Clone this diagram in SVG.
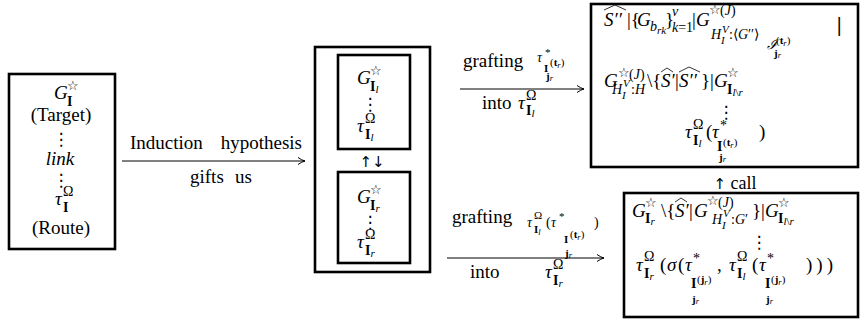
<svg xmlns="http://www.w3.org/2000/svg" width="862" height="320" viewBox="0 0 862 320">
<style>
.box{fill:none;stroke:#000;stroke-width:2.6}
.m{font-family:"Liberation Serif",serif;font-size:19px;fill:#000}
.i{font-style:italic}
.b{font-weight:bold}
.s{font-size:14px}
.ss{font-size:11px}
.sss{font-size:8.5px}
.star{font-family:"DejaVu Sans",sans-serif;font-size:13px;font-weight:bold;fill:#000}
.arw{font-family:"DejaVu Sans",sans-serif;font-size:15px;fill:#000}
.dots{font-family:"Noto Sans CJK SC","DejaVu Sans",sans-serif;font-size:17px;fill:#000;text-anchor:middle}
.cal{font-family:"DejaVu Serif",serif;font-style:italic;font-size:14px;fill:#000}
.bar{font-family:"DejaVu Serif",serif;font-size:19px;fill:#000}
.hat{fill:none;stroke:#000;stroke-width:0.8}
.arr{stroke:#000;stroke-width:1;fill:none;marker-end:url(#ah)}
</style>
<defs>
<marker id="ah" markerUnits="userSpaceOnUse" markerWidth="10" markerHeight="10" refX="8" refY="5" orient="auto" viewBox="0 0 10 10">
<path d="M1,1.5 Q5,4.3 8,5 Q5,5.7 1,8.5" fill="none" stroke="#000" stroke-width="1"/>
</marker>
</defs>
<rect width="862" height="320" fill="#fff"/>

<g id="connectors">
<line class="arr" x1="122" y1="161" x2="305" y2="161"/>
<line class="arr" x1="460" y1="89" x2="584" y2="89"/>
<line class="arr" x1="447" y1="258" x2="604" y2="258"/>
</g>

<g id="label-induction">
<text class="m" x="130" y="149">Induction</text>
<text class="m" x="302" y="149" text-anchor="end">hypothesis</text>
<text class="m" x="190" y="183">gifts</text>
<text class="m" x="235" y="183">us</text>
</g>

<g id="label-grafting-top">
<text class="m" x="463" y="67">grafting</text>
<text class="m i s" x="537" y="62">τ</text>
<text class="m ss" x="545" y="56">*</text>
<text class="m b ss" x="544" y="72">I</text>
<text class="m ss" x="550" y="66">(<tspan class="b">t</tspan><tspan class="i sss" dy="2">r</tspan><tspan dy="-2">)</tspan></text>
<text class="m b ss" x="546" y="80">j<tspan class="i sss" font-weight="normal" dy="1">r</tspan></text>
<text class="m" x="482" y="109">into</text>
<text class="m i" x="518" y="109">τ</text>
<text class="m s" x="526" y="100">Ω</text>
<text class="m b s" x="526" y="115">I<tspan class="i ss" font-weight="normal" dy="2">l</tspan></text>
</g>

<g id="label-grafting-bottom">
<text class="m" x="452" y="223">grafting</text>
<text class="m i s" x="527" y="227">τ</text>
<text class="m ss" x="534" y="219">Ω</text>
<text class="m b ss" x="534" y="233">I<tspan class="i sss" font-weight="normal" dy="2">l</tspan></text>
<text class="m s" x="546" y="227">(</text>
<text class="m i s" x="551" y="227">τ</text>
<text class="m ss" x="559" y="220">*</text>
<text class="m b ss" x="564" y="243">I</text>
<text class="m ss" x="570" y="238">(<tspan class="b">t</tspan><tspan class="i sss" dy="2">r</tspan><tspan dy="-2">)</tspan></text>
<text class="m b ss" x="565" y="257">j<tspan class="i sss" font-weight="normal" dy="1">r</tspan></text>
<text class="m s" x="594" y="227">)</text>
<text class="m" x="470" y="278">into</text>
<text class="m i" x="545" y="278">τ</text>
<text class="m s" x="553" y="269">Ω</text>
<text class="m b s" x="553" y="285">I<tspan class="i ss" font-weight="normal" dy="2">r</tspan></text>
</g>

<g id="node-target">
<rect class="box" x="9" y="74" width="106" height="175"/>
<text class="m i" x="54" y="99">G</text>
<text class="star" x="67" y="90">☆</text>
<text class="m b s" x="67" y="106">I</text>
<text class="m" x="61" y="121" text-anchor="middle">(Target)</text>
<text class="dots" x="61" y="145">⋮</text>
<text class="m i" x="60" y="165" text-anchor="middle">link</text>
<text class="dots" x="61" y="186">⋮</text>
<text class="m i" x="55" y="205">τ</text>
<text class="m s" x="63" y="196">Ω</text>
<text class="m b s" x="63" y="212">I</text>
<text class="m" x="61" y="234" text-anchor="middle">(Route)</text>
</g>

<g id="node-pair">
<rect class="box" x="315" y="47" width="115" height="225"/>
<text class="arw" x="372" y="167" text-anchor="middle">↑↓</text>
</g>

<g id="node-left">
<rect class="box" x="338" y="55" width="72" height="94"/>
<text class="m i" x="357" y="84">G</text>
<text class="star" x="370" y="75">☆</text>
<text class="m b s" x="370" y="91">I<tspan class="i ss" font-weight="normal" dy="2">l</tspan></text>
<text class="dots" x="370" y="110">⋮</text>
<text class="m i" x="357" y="132">τ</text>
<text class="m s" x="365" y="123">Ω</text>
<text class="m b s" x="365" y="139">I<tspan class="i ss" font-weight="normal" dy="2">l</tspan></text>
</g>

<g id="node-right">
<rect class="box" x="338" y="172" width="72" height="91"/>
<text class="m i" x="357" y="203">G</text>
<text class="star" x="370" y="194">☆</text>
<text class="m b s" x="370" y="210">I<tspan class="i ss" font-weight="normal" dy="2">r</tspan></text>
<text class="dots" x="370" y="228">⋮</text>
<text class="m i" x="357" y="248">τ</text>
<text class="m s" x="365" y="239">Ω</text>
<text class="m b s" x="365" y="255">I<tspan class="i ss" font-weight="normal" dy="2">r</tspan></text>
</g>

<g id="node-graft-left">
<rect class="box" x="591" y="4" width="267" height="163"/>
<text class="m i" x="604" y="26">S′′</text>
<path class="hat" d="M604,10 L615,5 L626,10"/>
<text class="m" x="627" y="26">|{</text>
<text class="m i" x="637" y="26">G</text>
<text class="m i s" x="650" y="31">b<tspan class="ss" dy="3">rk</tspan></text>
<text class="m" x="665" y="26">}</text>
<text class="m i s" x="672" y="16">v</text>
<text class="m s" x="672" y="32"><tspan class="i">k</tspan>=1</text>
<text class="m" x="692" y="26">|</text>
<text class="m i" x="696" y="26">G</text>
<text class="star" x="709" y="14">☆</text>
<text class="m s" x="720" y="15">(<tspan class="i">J</tspan>)</text>
<text class="m i s" x="711" y="39">H</text>
<text class="m i ss" x="722" y="33">V</text>
<text class="m i ss" x="721" y="44">I</text>
<text class="m s" x="729" y="39">:⟨<tspan class="i">G</tspan>′′⟩</text>
<text class="cal" x="767" y="49">ℐ</text>
<text class="m ss" x="776" y="44">(<tspan class="b">t</tspan><tspan class="i sss" dy="2">r</tspan><tspan dy="-2">)</tspan></text>
<text class="m b ss" x="774" y="57">j<tspan class="i sss" font-weight="normal" dy="1">r</tspan></text>
<text class="bar" x="836" y="31">|</text>
<text class="m i" x="604" y="87">G</text>
<text class="star" x="618" y="77">☆</text>
<text class="m s" x="629" y="79">(<tspan class="i">J</tspan>)</text>
<text class="m i s" x="612" y="94">H</text>
<text class="m i ss" x="623" y="87">V</text>
<text class="m i ss" x="622" y="99">I</text>
<text class="m s" x="631" y="94">:<tspan class="i">H</tspan></text>
<text class="m" x="647" y="87">\{</text>
<text class="m i" x="661" y="87">S′</text>
<path class="hat" d="M661,72 L667,68 L673,72"/>
<text class="m" x="675" y="87">|</text>
<text class="m i" x="679" y="87">S′′</text>
<path class="hat" d="M679,72 L689,67 L700,72"/>
<text class="m" x="701" y="87">}|</text>
<text class="m i" x="714" y="87">G</text>
<text class="star" x="727" y="77">☆</text>
<text class="m b s" x="727" y="94">I<tspan class="ss" font-weight="normal" dy="2"><tspan class="i">l</tspan>\<tspan class="i">r</tspan></tspan></text>
<text class="dots" x="726" y="118">⋮</text>
<text class="m i" x="685" y="138">τ</text>
<text class="m s" x="693" y="129">Ω</text>
<text class="m b s" x="693" y="145">I<tspan class="i ss" font-weight="normal" dy="2">l</tspan></text>
<text class="m" x="706" y="138">(</text>
<text class="m i" x="712" y="138">τ</text>
<text class="m s" x="720" y="130">*</text>
<text class="m b s" x="717" y="151">I</text>
<text class="m ss" x="723" y="146">(<tspan class="b">t</tspan><tspan class="i sss" dy="2">r</tspan><tspan dy="-2">)</tspan></text>
<text class="m b ss" x="719" y="161">j<tspan class="i sss" font-weight="normal" dy="1">r</tspan></text>
<text class="m" x="759" y="138">)</text>
</g>

<g id="label-call">
<text class="m" x="735" y="189" text-anchor="middle" style="font-size:18px"><tspan class="arw">↑</tspan> call</text>
</g>

<g id="node-graft-right">
<rect class="box" x="624" y="193" width="234" height="124"/>
<text class="m i" x="632" y="217">G</text>
<text class="star" x="645" y="207">☆</text>
<text class="m b s" x="645" y="223">I<tspan class="i ss" font-weight="normal" dy="2">r</tspan></text>
<text class="m" x="661" y="217">\{</text>
<text class="m i" x="675" y="217">S′</text>
<path class="hat" d="M675,202 L681,198 L687,202"/>
<text class="m" x="689" y="217">|</text>
<text class="m i" x="694" y="217">G</text>
<text class="star" x="707" y="205">☆</text>
<text class="m s" x="718" y="207">(<tspan class="i">J</tspan>)</text>
<text class="m i s" x="712" y="224">H</text>
<text class="m i ss" x="723" y="217">V</text>
<text class="m i ss" x="722" y="229">I</text>
<text class="m s" x="731" y="224">:<tspan class="i">G</tspan>′</text>
<text class="m" x="752" y="217">}|</text>
<text class="m i" x="765" y="217">G</text>
<text class="star" x="778" y="207">☆</text>
<text class="m b s" x="778" y="223">I<tspan class="ss" font-weight="normal" dy="2"><tspan class="i">l</tspan>\<tspan class="i">r</tspan></tspan></text>
<text class="dots" x="759" y="248">⋮</text>
<text class="m i" x="636" y="271">τ</text>
<text class="m s" x="644" y="261">Ω</text>
<text class="m b s" x="644" y="278">I<tspan class="i ss" font-weight="normal" dy="2">r</tspan></text>
<text class="m" x="660" y="271">(</text>
<text class="m i" x="667" y="271">σ</text>
<text class="m" x="678" y="271">(</text>
<text class="m i" x="685" y="271">τ</text>
<text class="m s" x="693" y="263">*</text>
<text class="m b s" x="691" y="288">I</text>
<text class="m ss" x="697" y="283">(<tspan class="b">j</tspan><tspan class="i sss" dy="2">r</tspan><tspan dy="-2">)</tspan></text>
<text class="m b ss" x="692" y="303">j<tspan class="i sss" font-weight="normal" dy="1">r</tspan></text>
<text class="m" x="717" y="271">,</text>
<text class="m i" x="729" y="271">τ</text>
<text class="m s" x="737" y="261">Ω</text>
<text class="m b s" x="737" y="278">I<tspan class="i ss" font-weight="normal" dy="2">l</tspan></text>
<text class="m" x="752" y="271">(</text>
<text class="m i" x="759" y="271">τ</text>
<text class="m s" x="767" y="263">*</text>
<text class="m b s" x="765" y="288">I</text>
<text class="m ss" x="771" y="283">(<tspan class="b">j</tspan><tspan class="i sss" dy="2">r</tspan><tspan dy="-2">)</tspan></text>
<text class="m b ss" x="766" y="303">j<tspan class="i sss" font-weight="normal" dy="1">r</tspan></text>
<text class="m" x="806" y="271" letter-spacing="4">)))</text>
</g>
</svg>
